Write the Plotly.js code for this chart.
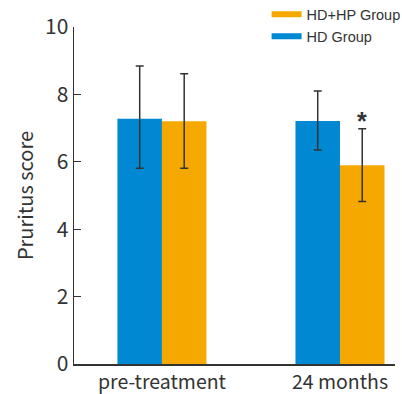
<!DOCTYPE html>
<html>
<head>
<meta charset="utf-8">
<script src="https://cdn.plot.ly/plotly-3.0.1.min.js"></script>
<style>html,body{margin:0;padding:0;background:#fff;}#chart{width:402px;height:394px;}</style>
</head>
<body>
<div id="chart"></div>
<script>
var categories = ["pre-treatment", "24 months"];
var hdValues = [7.28, 7.21];
var hdErrUp = [1.56, 0.89];
var hdErrDown = [1.47, 0.86];
var hdhpValues = [7.20, 5.90];
var hdhpErrUp = [1.41, 1.08];
var hdhpErrDown = [1.39, 1.08];
var yTicks = [0, 2, 4, 6, 8, 10];

var blue = "#0089D2", orange = "#F5A800", ink = "#333333";
var mainFont = "Noto Sans CJK SC, Noto Sans, sans-serif";

var traces = [
  {type: "bar", name: "HD Group", x: categories, y: hdValues, marker: {color: blue},
   error_y: {type: "data", symmetric: false, array: hdErrUp, arrayminus: hdErrDown, color: ink, thickness: 1.5, width: 4},
   showlegend: false},
  {type: "bar", name: "HD+HP Group", x: categories, y: hdhpValues, marker: {color: orange},
   error_y: {type: "data", symmetric: false, array: hdhpErrUp, arrayminus: hdhpErrDown, color: ink, thickness: 1.5, width: 4},
   showlegend: false},
  {type: "scatter", mode: "lines", name: "HD+HP Group", x: [null], y: [null], line: {color: orange, width: 6}},
  {type: "scatter", mode: "lines", name: "HD Group", x: [null], y: [null], line: {color: blue, width: 6}}
];

var layout = {
  width: 402, height: 394,
  margin: {l: 74, r: 7, t: 27, b: 30, autoexpand: false},
  paper_bgcolor: "#fff", plot_bgcolor: "#fff",
  barmode: "group", bargap: 0.5, bargroupgap: 0,
  font: {family: mainFont, color: ink},
  xaxis: {type: "category", range: [-0.494, 1.309], showline: true, linecolor: ink, linewidth: 1.5,
          ticks: "", showgrid: false, zeroline: false, tickfont: {size: 19.5, color: ink}, automargin: false},
  yaxis: {range: [0, 10], tickvals: yTicks, showline: true, linecolor: ink, linewidth: 1.5,
          ticks: "inside", ticklen: 7, tickcolor: ink, tickwidth: 1.2, showgrid: false, zeroline: false,
          tickfont: {size: 21, color: ink}, automargin: false,
          title: {text: "Pruritus score", font: {size: 20, color: ink}, standoff: 6}},
  legend: {x: 0.6, y: 1.085, xanchor: "left", yanchor: "top", traceorder: "normal",
           font: {family: "Liberation Sans, Arial, sans-serif", size: 14.5, color: ink},
           bgcolor: "rgba(0,0,0,0)", itemwidth: 30, tracegroupgap: 0},
  annotations: [{x: 1.126, y: 7.22, xref: "x", yref: "y", text: "<b>*</b>", showarrow: false,
                 yanchor: "middle", font: {family: "Liberation Sans, Arial, sans-serif", size: 25, color: ink}}]
};

Plotly.newPlot("chart", traces, layout, {displayModeBar: false, staticPlot: true});
</script>
</body>
</html>
